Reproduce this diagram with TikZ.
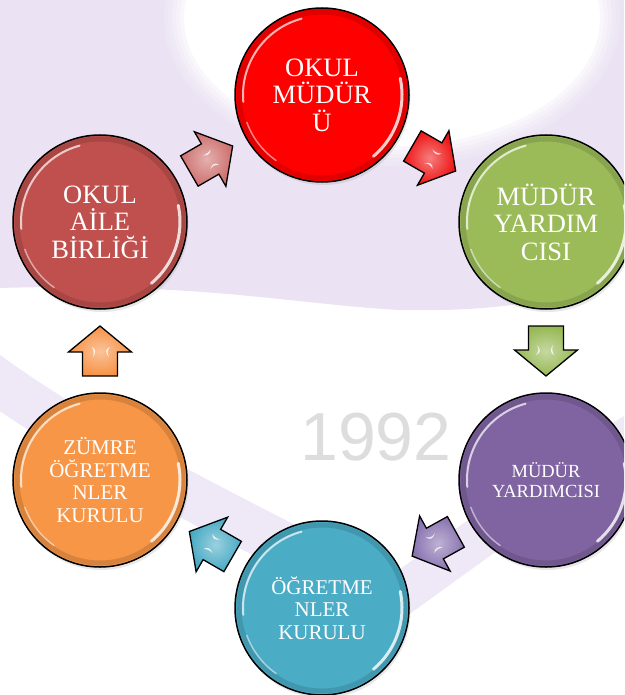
\documentclass[tikz,border=0pt]{standalone}
\usepackage{fontspec}
\setmainfont{Liberation Serif}
\newfontfamily\numfont{Liberation Sans}
\usetikzlibrary{calc,shadows}
\definecolor{lav}{RGB}{235,227,244}
\definecolor{lavb}{RGB}{239,233,247}
\definecolor{cred}{RGB}{255,0,0}
\definecolor{crose}{RGB}{192,80,77}
\definecolor{cgreen}{RGB}{155,187,89}
\definecolor{cpurple}{RGB}{128,100,162}
\definecolor{cblue}{RGB}{75,172,198}
\definecolor{corange}{RGB}{247,150,70}
\definecolor{arose}{RGB}{205,112,110}
\definecolor{ared}{RGB}{238,20,20}
\definecolor{agreen}{RGB}{150,184,84}
\definecolor{apurple}{RGB}{136,114,176}
\definecolor{ablue}{RGB}{72,170,196}
\definecolor{aorange}{RGB}{246,146,70}
\definecolor{yeargray}{RGB}{221,221,221}
\tikzset{
  ball/.style={circle, draw=black, line width=1.5pt, minimum size=174pt,
    inner sep=0pt, fill=#1, text=white, align=center,
    drop shadow={opacity=0.18, shadow xshift=1.5pt, shadow yshift=-3pt}},
  bigtext/.style={font=\fontsize{26.5}{27.5}\selectfont},
  midtext/.style={font=\fontsize{21}{22.5}\selectfont},
  smalltext/.style={font=\fontsize{18.5}{20}\selectfont},
  gloss/.style={white, line cap=round},
  pics/barrow/.style 2 args={code={
    \begin{scope}[rotate=#1]
      \draw[inner color=#2!55!white, outer color=#2, draw=black, line width=1.3pt, line join=miter]
        (-25,-17.5) -- (-1,-17.5) -- (-1,-31.5) -- (25,0) -- (-1,31.5)
        -- (-1,17.5) -- (-25,17.5) -- cycle;
      \fill[white, opacity=0.8] (-6,7) .. controls (-2,4) and (2,4) .. (4,8) .. controls (1,6) and (-3,6) .. cycle;
      \fill[white, opacity=0.8] (-6,-9) .. controls (-2,-5) and (2,-5) .. (4,-10) .. controls (1,-7) and (-3,-7) .. cycle;
    \end{scope}
  }}
}
\begin{document}
\begin{tikzpicture}[x=1pt,y=1pt]
\useasboundingbox (0,0) rectangle (624,-695);
\clip (0,0) rectangle (624,-695);
% background watermark
\fill[white] (0,0) rectangle (624,-695);
\fill[lav] (0,0) -- (624,0) -- (624,-262)
  .. controls (590,-300) and (500,-312) .. (400,-310)
  .. controls (300,-305) and (200,-282) .. (0,-288) -- cycle;
\foreach \o/\op in {20/0.12,16/0.15,12/0.2,8/0.3,4/0.45,0/1}{
  \fill[white, opacity=\op] (392,-18) ellipse [x radius={208+\o}, y radius={128+\o}];
}
\draw[lavb, line width=46pt] (-25,-365) .. controls (60,-430) and (200,-505) .. (395,-600);
\draw[lavb, line width=42pt] (390,-602) .. controls (450,-560) and (540,-490) .. (650,-425);
\node[font=\numfont\fontsize{68}{68}\selectfont, text=yeargray, anchor=base] (year) at (376,-460) {1992};
% circles
\node[ball=cred, bigtext] (red) at (322,-95) {OKUL\\MÜDÜR\\Ü};
\node[ball=crose, bigtext] (rose) at (100,-222) {OKUL\\AİLE\\BİRLİĞİ};
\node[ball=cgreen, bigtext] (green) at (546,-222) {MÜDÜR\\YARDIM\\CISI};
\node[ball=cpurple, smalltext] (purple) at (546,-480) {MÜDÜR\\YARDIMCISI};
\node[ball=cblue, midtext] (blue) at (322,-608) {ÖĞRETME\\NLER\\KURULU};
\node[ball=corange, midtext] (orange) at (100,-480) {ZÜMRE\\ÖĞRETME\\NLER\\KURULU};
% gloss
\foreach \n in {red,rose,green,purple,blue,orange}{
  \draw[black, opacity=0.12, line width=5pt] (\n.center) circle (83);
  \draw[gloss, opacity=0.7, line width=2pt] ([shift={(105:79)}]\n.center) arc[start angle=105, end angle=185, radius=79];
  \draw[gloss, opacity=0.8, line width=3pt] ([shift={(-50:80)}]\n.center) arc[start angle=-50, end angle=12, radius=80];
  \draw[gloss, opacity=0.5, line width=1.5pt] ([shift={(200:80)}]\n.center) arc[start angle=200, end angle=235, radius=80];
}
% arrows (connectors)
\pic at ($(rose)!0.5!(red)$) {barrow={30}{arose}};
\pic at ($(red)!0.5!(green)$) {barrow={-30}{ared}};
\pic at ($(green)!0.5!(purple)$) {barrow={-90}{agreen}};
\pic at ($(purple)!0.5!(blue)$) {barrow={209}{apurple}};
\pic at ($(blue)!0.5!(orange)$) {barrow={150}{ablue}};
\pic at ($(orange)!0.5!(rose)$) {barrow={90}{aorange}};
\end{tikzpicture}
\end{document}
